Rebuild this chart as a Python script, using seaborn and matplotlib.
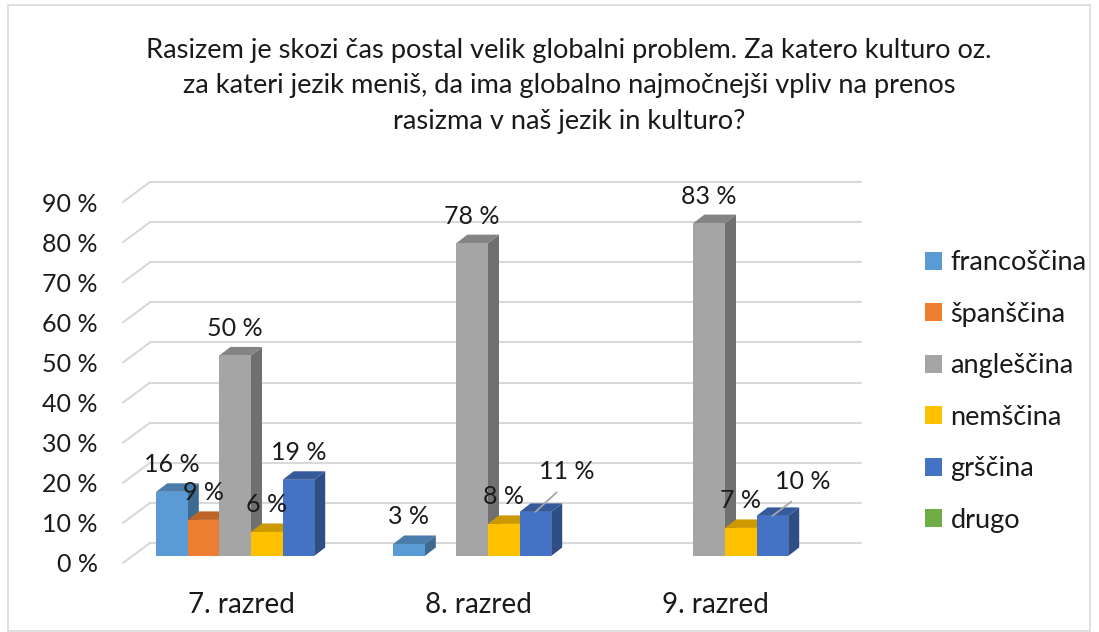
import numpy as np
import pandas as pd
import matplotlib
matplotlib.use("Agg")
import matplotlib.pyplot as plt
import seaborn as sns
from matplotlib.patches import Polygon, Rectangle
from matplotlib.transforms import ScaledTranslation

# ---- data ----
categories = ["7. razred", "8. razred", "9. razred"]
languages = ["francoščina", "španščina", "angleščina", "nemščina", "grščina", "drugo"]
francoscina = [16, 3, 0]
spanscina = [9, 0, 0]
anglescina = [50, 78, 83]
nemscina = [6, 8, 7]
grscina = [19, 11, 10]
drugo = [0, 0, 0]
y_ticks = [0, 10, 20, 30, 40, 50, 60, 70, 80, 90]
y_tick_labels = [f"{v} %" for v in y_ticks]
title_lines = [
    "Rasizem je skozi čas postal velik globalni problem. Za katero kulturo oz.",
    "za kateri jezik meniš, da ima globalno najmočnejši vpliv na prenos",
    "rasizma v naš jezik in kulturo?",
]

series = [francoscina, spanscina, anglescina, nemscina, grscina, drugo]
colors = ["#5B9BD5", "#ED7D31", "#A5A5A5", "#FFC000", "#4472C4", "#70AD47"]

rows = []
for lang, vals in zip(languages, series):
    for cat, v in zip(categories, vals):
        rows.append({"razred": cat, "jezik": lang, "delež": v})
df = pd.DataFrame(rows)

sns.set_theme(style="white")
plt.rcParams["font.family"] = ["Lato", "DejaVu Sans"]
TXT = "#1a1a1a"

W, H = 1099, 632
fig = plt.figure(figsize=(W / 100, H / 100), dpi=100)
ax_l, ax_b, ax_w, ax_h = 132.5, 76.0, 711.0, 361.0
ax = fig.add_axes([ax_l / W, ax_b / H, ax_w / W, ax_h / H])

sns.barplot(data=df, x="razred", y="delež", hue="jezik", order=categories,
            hue_order=languages, palette=colors, saturation=1, width=0.8,
            edgecolor="none", linewidth=0, ax=ax, legend=True)

ax.set_xlim(-0.5, 2.5)
ax.set_ylim(0, 90)
for s in ax.spines.values():
    s.set_visible(False)
ax.set_xlabel("")
ax.set_ylabel("")

kx = ax_w / 3.0   # px per x unit
ky = ax_h / 90.0  # px per y unit

def dxu(p):
    return p / kx

def dyu(p):
    return p / ky

# back-wall gridlines and floor diagonals
grid_c = "#D9D9D9"
for v in y_ticks:
    ax.plot([-0.5 + dxu(17.5), 2.5 + dxu(17.5)], [v + dyu(13), v + dyu(13)],
            color=grid_c, lw=1.5, clip_on=False, zorder=0.5)
    ax.plot([-0.5 - dxu(9.5), -0.5 + dxu(17.5)], [v - dyu(7), v + dyu(13)],
            color=grid_c, lw=1.5, clip_on=False, zorder=0.5)

# pseudo-3D faces
def shade(c, f):
    r, g, b = matplotlib.colors.to_rgb(c)
    return (r * f, g * f, b * f)

ddx, ddy = dxu(11), dyu(8.5)
label_offsets = {("grščina", "8. razred"): (31, 40),
                 ("grščina", "9. razred"): (30, 34)}
n_h = len(languages)
for i, cont in enumerate(ax.containers):
    lang = languages[i]
    for j, p in enumerate(cont.patches):
        h = p.get_height()
        base_z = 2 + (j * n_h + i) * 0.01
        p.set_zorder(base_z + 0.005)
        if h <= 0:
            continue
        x0, w = p.get_x(), p.get_width()
        fc = p.get_facecolor()
        side = Polygon([(x0 + w, 0), (x0 + w + ddx, ddy), (x0 + w + ddx, h + ddy), (x0 + w, h)],
                       closed=True, facecolor=shade(fc, 0.68), edgecolor="none", zorder=base_z)
        top = Polygon([(x0, h), (x0 + w, h), (x0 + w + ddx, h + ddy), (x0 + ddx, h + ddy)],
                      closed=True, facecolor=shade(fc, 0.8), edgecolor="none", zorder=base_z)
        ax.add_patch(side)
        ax.add_patch(top)
        key = (lang, categories[j])
        if key in label_offsets:
            ox, oy = label_offsets[key]
            ax.annotate(f"{h:g} %", xy=(x0 + w / 2, h), xytext=(ox, oy),
                        textcoords="offset pixels", ha="center", va="center",
                        fontsize=18, color=TXT, zorder=10,
                        arrowprops=dict(arrowstyle="-", color="#A6A6A6", lw=1.3,
                                        relpos=(0.5, 0.0), shrinkA=6, shrinkB=0))
        else:
            ax.annotate(f"{h:g} %", xy=(x0 + w / 2, h), xytext=(0, 27),
                        textcoords="offset pixels", ha="center", va="center",
                        fontsize=18, color=TXT, zorder=10)

# ticks
ax.tick_params(axis="both", length=0)
ax.set_yticks(y_ticks)
ax.set_yticklabels(y_tick_labels, fontsize=18, color=TXT)
ax.tick_params(axis="y", pad=34.5 * 0.72)
ax.tick_params(axis="x", pad=36 * 0.72)
for t in ax.get_xticklabels():
    t.set_fontsize(20)
    t.set_color(TXT)
for t in ax.yaxis.get_major_ticks():
    t.label1.set_transform(t.label1.get_transform() + ScaledTranslation(0, -0.07, fig.dpi_scale_trans))
for t in ax.xaxis.get_major_ticks():
    t.label1.set_transform(t.label1.get_transform() + ScaledTranslation(-0.10, 0, fig.dpi_scale_trans))

# legend
handles, labels = ax.get_legend_handles_labels()
ax.legend(handles, labels, loc="center left",
          bbox_to_anchor=(925 / W, 1 - 391.5 / H), bbox_transform=fig.transFigure,
          frameon=False, fontsize=19.5, handlelength=0.64, handleheight=0.64,
          handletextpad=0.3, labelspacing=0.98, borderpad=0, borderaxespad=0,
          labelcolor=TXT)

# title
for k, line in enumerate(title_lines):
    fig.text(569 / W, 1 - (58 + 35.5 * k) / H, line, ha="center", va="baseline",
             fontsize=19.6, color=TXT)

# chart border
fig.patches.append(Rectangle((8 / W, 1 / H), 1082 / W, 626 / H, transform=fig.transFigure,
                             fill=False, edgecolor="#D9D9D9", lw=1.2))

fig.savefig("out.png", dpi=100)
